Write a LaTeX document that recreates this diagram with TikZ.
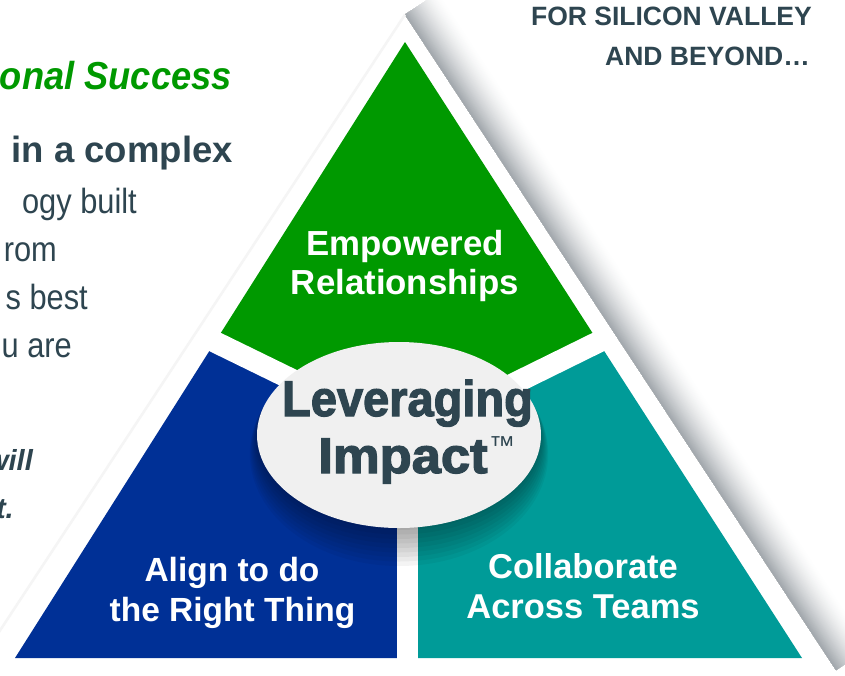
\documentclass[tikz,border=0pt]{standalone}
\usepackage{fontspec}
\usepackage{graphicx}
\setmainfont{Liberation Sans}
\newfontfamily\titlefont[FakeStretch=0.93]{Liberation Sans}
\newfontfamily\bodyfont[FakeStretch=0.88]{Liberation Sans}
\newfontfamily\bigfont[FakeBold=2.5]{Liberation Sans}
\usetikzlibrary{shapes.geometric,calc}
\definecolor{txt}{HTML}{2E4550}
\definecolor{pgreen}{HTML}{009900}
\definecolor{pblue}{HTML}{003096}
\definecolor{pteal}{HTML}{009B98}
\definecolor{ellfill}{HTML}{F0F0F0}
\definecolor{shd}{HTML}{5A646D}
\begin{document}
\begin{tikzpicture}[x=1pt,y=-1pt,
  lbl/.style={text=white,font=\fontsize{#1}{#1}\selectfont\bfseries,inner sep=0,anchor=base},
  side/.style={text=txt,inner sep=0,anchor=base east},
  big/.style={text=txt,inner sep=0,anchor=base,font=\bigfont\bfseries\fontsize{50}{57}\selectfont}]
\useasboundingbox (0,0) rectangle (845,675);
\fill[white] (0,0) rectangle (845,675);
% outer white triangle with its shadow
\coordinate (A) at (405,14.6);
\coordinate (B) at (836,670);
\coordinate (BL) at (-26,670);
\foreach \w in {40,39,...,1}{
  \pgfmathsetmacro\p{58*(1-\w/41)^1.6}
  \fill[shd!\p!white] (A) -- (B) -- ($(B)+(0.8355*\w,-0.5495*\w)$) -- ($(A)+(0.8355*\w,-0.5495*\w)$) -- cycle;
}
\draw[black!4,line width=2.5pt] (A) -- (BL);
% coloured pieces
\coordinate (T) at (405,42);
\coordinate (L) at (15,658);
\coordinate (R) at (802,658);
\coordinate (C) at (407.5,436);
\coordinate (MB) at (407.5,658);
\coordinate (ML) at ($(T)!0.487!(L)$);
\coordinate (MR) at ($(T)!0.487!(R)$);
\fill[pgreen] (T) -- (ML) -- (C) -- (MR) -- cycle;
\fill[pblue] (ML) -- (L) -- (MB) -- (C) -- cycle;
\fill[pteal] (MR) -- (C) -- (MB) -- (R) -- cycle;
\draw[white,line width=21.5pt,line join=round] ($(C)!1.04!(ML)$) -- (C) -- ($(C)!1.04!(MR)$);
\draw[white,line width=21pt] (C) -- ($(MB)+(0,20)$);
% ellipse shadow and ellipse
\foreach \k in {0,3,...,24}{
  \pgfmathsetmacro\rx{142+0.3*\k}
  \pgfmathsetmacro\ry{93+0.8*\k}
  \pgfmathsetmacro\cy{437+0.7*\k}
  \fill[black,opacity=0.045] (399,\cy) ellipse [x radius=\rx pt, y radius=\ry pt];
}
\node[ellipse,fill=ellfill,minimum width=284pt,minimum height=186pt,inner sep=0] (ell) at (399,435) {};
\node[big] (lev) at (407.5,416) {\scalebox{0.94}[1]{Leveraging}};
\node[big] (imp) at (403,473) {\scalebox{1.05}[1]{Impact}};
\node[anchor=north west,inner sep=0,text=txt,font=\fontsize{26}{26}\selectfont] (tm) at (489,436) {™};
% labels
\node[lbl=34.8] (emp1) at (405,255) {Empowered};
\node[lbl=34.8] (emp2) at (405,294) {Relationships};
\node[lbl=33.5] (ali1) at (232,581) {Align to do};
\node[lbl=33.5] (ali2) at (232.5,621) {the Right Thing};
\node[lbl=34.5] (col1) at (583,578.5) {Collaborate};
\node[lbl=34.5] (col2) at (583,618.5) {Across Teams};
% top right
\node[side,font=\fontsize{26.5}{30}\selectfont\bfseries] (fsv) at (812,25) {FOR SILICON VALLEY};
\node[side,font=\fontsize{26.5}{30}\selectfont\bfseries] (ab) at (810,65) {AND BEYOND…};
% left text
\node[side,text=pgreen,font=\titlefont\bfseries\itshape\fontsize{39}{42}\selectfont] (ttl) at (232,89.5) {onal Success};
\node[side,font=\bfseries\fontsize{36.5}{40}\selectfont] (l1) at (233,162) {in a complex};
\node[side,font=\bodyfont\fontsize{35}{40}\selectfont] (l2) at (137,213) {ogy built};
\node[side,font=\bodyfont\fontsize{35}{40}\selectfont] (l3) at (57,261.5) {rom};
\node[side,font=\bodyfont\fontsize{35}{40}\selectfont] (l4) at (88,309) {s best};
\node[side,font=\bodyfont\fontsize{35}{40}\selectfont] (l5) at (72,357) {u are};
\node[side,font=\bfseries\itshape\fontsize{29}{32}\selectfont] (l6) at (33,470) {will};
\node[side,font=\bfseries\itshape\fontsize{29}{32}\selectfont] (l7) at (14,518) {t.};
\end{tikzpicture}
\end{document}
